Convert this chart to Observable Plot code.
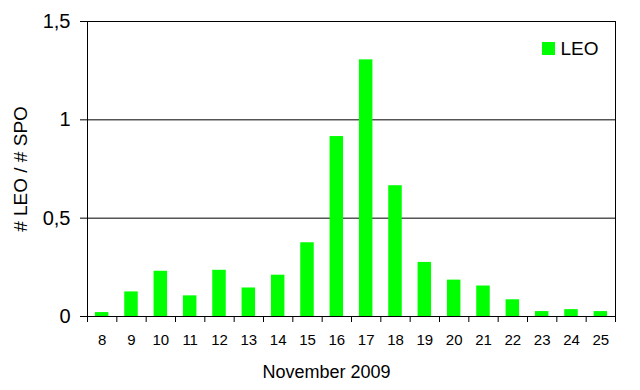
<!DOCTYPE html>
<html><head><meta charset="utf-8">
<script src="https://cdn.jsdelivr.net/npm/d3@7"></script>
<script src="https://cdn.jsdelivr.net/npm/@observablehq/plot@0.6"></script>
<style>body{margin:0;background:#fff}</style>
</head><body><div id="chart"></div>
<script>
const days = [8, 9, 10, 11, 12, 13, 14, 15, 16, 17, 18, 19, 20, 21, 22, 23, 24, 25];
const leo = [0.02, 0.125, 0.23, 0.105, 0.235, 0.145, 0.21, 0.375, 0.915, 1.305, 0.665, 0.275, 0.185, 0.155, 0.085, 0.025, 0.035, 0.025];
const yTicks = [0, 0.5, 1, 1.5];
const seriesName = "LEO";
const xTitle = "November 2009";
const yTitle = "# LEO / # SPO";

const data = days.map((d, i) => ({day: d, value: leo[i]}));
const halfBar = 0.23;
const boundaries = [...days.map(d => d - 0.5), days[days.length - 1] + 0.5];
const fmt = d => String(d).replace(".", ",");

const plot = Plot.plot({
  width: 640, height: 390,
  marginLeft: 87, marginRight: 25, marginTop: 21, marginBottom: 74,
  style: {fontFamily: "'Liberation Sans', Arial, sans-serif", background: "#fff", color: "#000", overflow: "visible"},
  x: {type: "linear", domain: [days[0] - 0.5, days[days.length - 1] + 0.5]},
  y: {domain: [0, 1.5]},
  marks: [
    Plot.ruleY(yTicks.slice(1), {stroke: "#000"}),
    Plot.rectY(data, {x1: d => d.day - halfBar, x2: d => d.day + halfBar, y: "value", fill: "#00ff00"}),
    Plot.frame({stroke: "#000"}),
    Plot.axisX({ticks: boundaries, tickFormat: () => "", tickSize: 6, label: null}),
    Plot.axisX({ticks: days, tickSize: 0, tickPadding: 18, fontSize: 15, label: null, tickFormat: d => String(d), fill: "#000"}),
    Plot.axisY({ticks: yTicks, tickSize: 7, tickPadding: 10, fontSize: 20, tickFormat: fmt, label: null, fill: "#000"}),
    Plot.text([xTitle], {frameAnchor: "bottom", textAnchor: "middle", lineAnchor: "middle", dx: -25, dy: 56, fontSize: 18, fill: "#000"}),
    Plot.text([yTitle], {frameAnchor: "left", textAnchor: "middle", lineAnchor: "middle", dx: -67, rotate: -90, fontSize: 19, fill: "#000"}),
    Plot.dot([seriesName], {frameAnchor: "top-right", dx: -67, dy: 27, symbol: "square", r: 7.33, fill: "#00ff00"}),
    Plot.text([seriesName], {frameAnchor: "top-right", dx: -55, dy: 27, textAnchor: "start", lineAnchor: "middle", fontSize: 19, fill: "#000"})
  ]
});
document.getElementById("chart").appendChild(plot);
</script>
</body></html>
